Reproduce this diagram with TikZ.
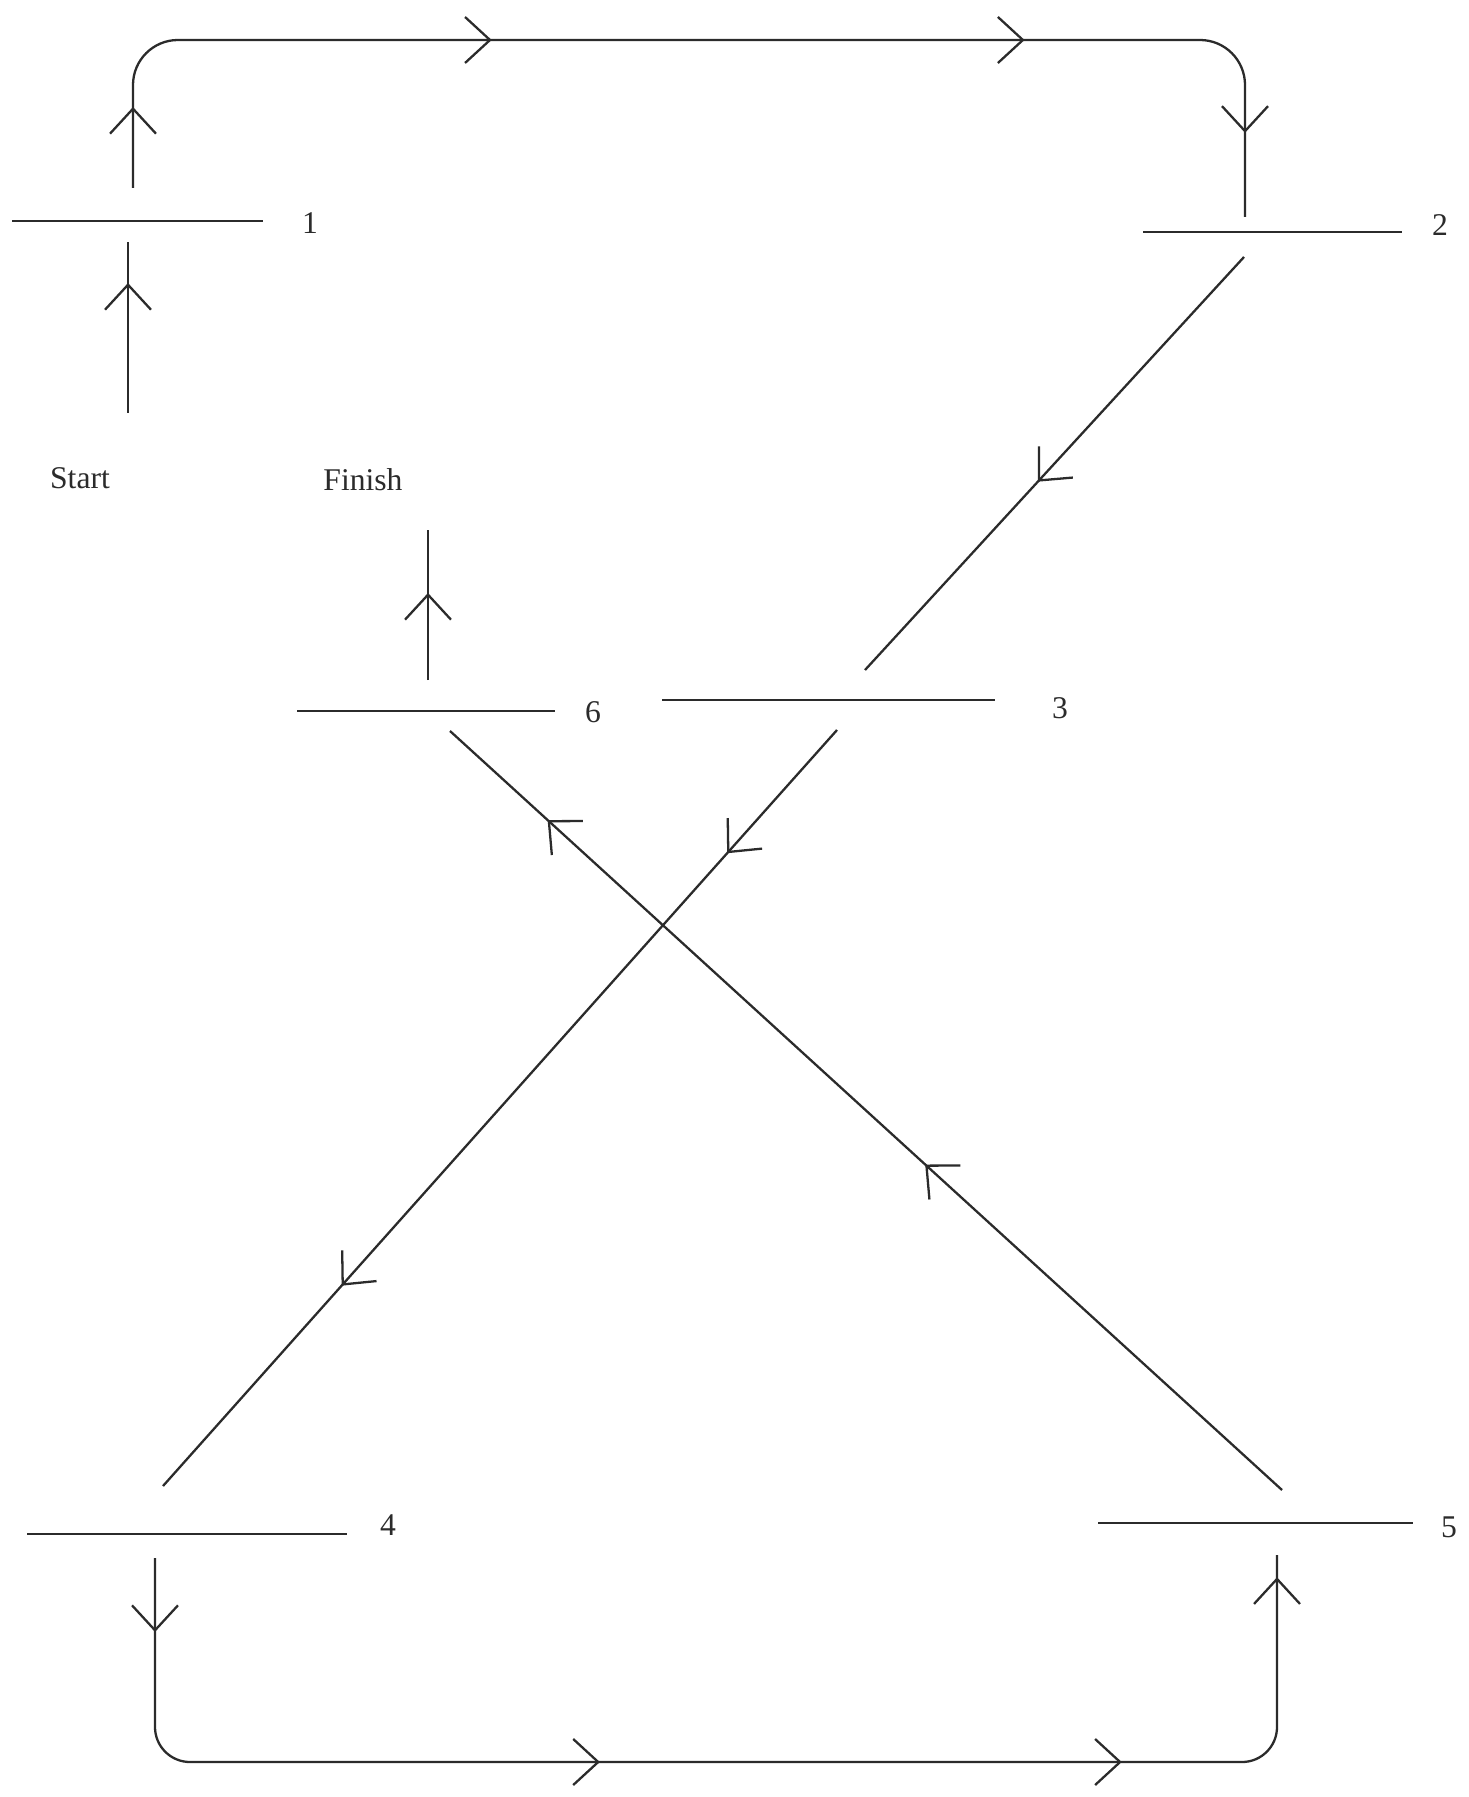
\documentclass[tikz,border=0pt]{standalone}
\usepackage{fontspec}
\setmainfont{Liberation Serif}
\usetikzlibrary{arrows.meta,decorations.markings}
\definecolor{ink}{HTML}{2B2B2B}
\tikzset{
  myb/.tip={Straight Barb[length=0.5cm,width=0.92cm]},
  ln/.style={draw=ink, line width=1.3pt},
  tipat/.style={postaction={decorate,decoration={markings,mark=at position #1 with {\arrow[ink,line width=1.3pt]{myb}}}}},
  lbl/.style={text=ink, font=\fontsize{18}{20}\selectfont, inner sep=0pt},
}
\begin{document}
\begin{tikzpicture}[x=0.02cm,y=-0.02cm]
\useasboundingbox (0,0) rectangle (1469,1797);
\fill[white] (0,0) rectangle (1469,1797);
% bars
\coordinate (B1a) at (12,221);   \coordinate (B1b) at (263,221);
\coordinate (B2a) at (1143,232); \coordinate (B2b) at (1402,232);
\coordinate (B3a) at (662,700);  \coordinate (B3b) at (995,700);
\coordinate (B4a) at (27,1534);  \coordinate (B4b) at (347,1534);
\coordinate (B5a) at (1098,1523);\coordinate (B5b) at (1413,1523);
\coordinate (B6a) at (297,711);  \coordinate (B6b) at (555,711);
\draw[ln] (B1a) -- (B1b);
\draw[ln] (B2a) -- (B2b);
\draw[ln] (B3a) -- (B3b);
\draw[ln] (B4a) -- (B4b);
\draw[ln] (B5a) -- (B5b);
\draw[ln] (B6a) -- (B6b);
% labels
\node[lbl] (n1) at (310,223) {1};
\node[lbl] (n2) at (1440,225) {2};
\node[lbl] (n3) at (1060,708) {3};
\node[lbl] (n4) at (388,1525) {4};
\node[lbl] (n5) at (1449,1527) {5};
\node[lbl] (n6) at (593,712) {6};
\node[lbl] (start) at (80,478) {Start};
\node[lbl] (finish) at (363,480) {Finish};
% connector end points
\coordinate (S0) at (128,413);  \coordinate (S1) at (128,242);
\coordinate (U0) at (133,188);  \coordinate (TR) at (1245,40);  \coordinate (D2) at (1245,217);
\coordinate (D2b) at (1244,257); \coordinate (E3) at (865,670);
\coordinate (F3) at (837,730);  \coordinate (G4) at (163,1486);
\coordinate (L0) at (155,1558); \coordinate (BR) at (1277,1762); \coordinate (U5) at (1277,1555);
\coordinate (H5) at (1282,1490); \coordinate (I6) at (450,731);
\coordinate (J6) at (428,680);  \coordinate (J7) at (428,530);
% connectors
\draw[ln, tipat=0.76] (S0) -- (S1);
\draw[ln, rounded corners=0.9cm, tipat=1.62cm, tipat=9.75cm, tipat=20.41cm, tipat=26.29cm] (U0) |- (TR) -- (D2);
\draw[ln, tipat=0.544] (D2b) -- (E3);
\draw[ln, tipat=0.163, tipat=0.735] (F3) -- (G4);
\draw[ln, rounded corners=0.7cm, tipat=1.48cm, tipat=12.68cm, tipat=23.12cm, tipat=29.62cm] (L0) |- (BR) -- (U5);
\draw[ln, tipat=0.429, tipat=0.883] (H5) -- (I6);
\draw[ln, tipat=0.58] (J6) -- (J7);
\end{tikzpicture}
\end{document}
